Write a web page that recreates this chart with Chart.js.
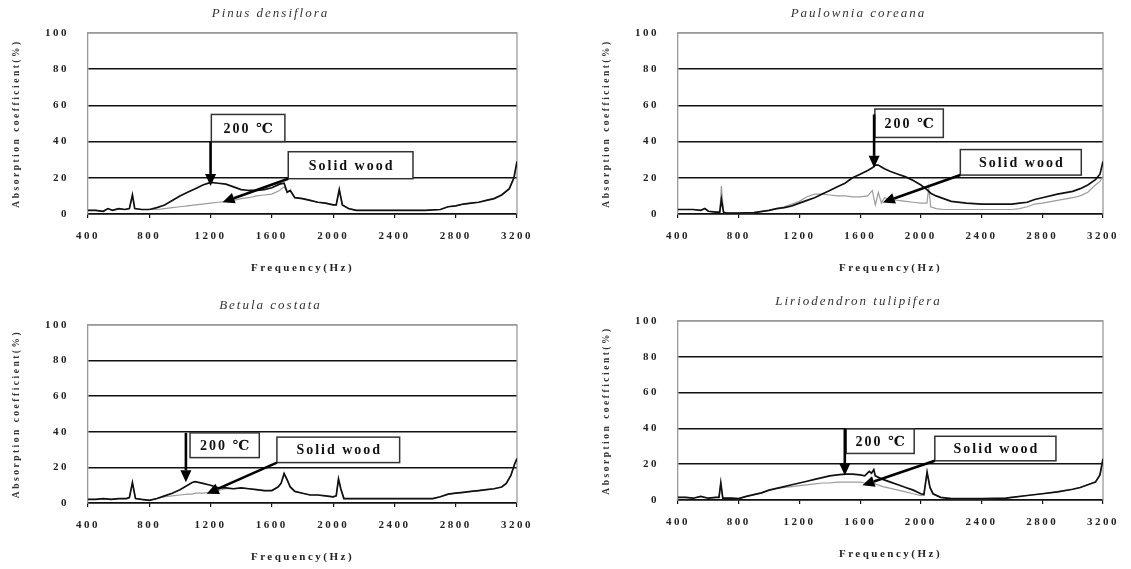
<!DOCTYPE html>
<html><head><meta charset="utf-8">
<script src="https://cdn.jsdelivr.net/npm/chart.js@4.4.1/dist/chart.umd.min.js"></script>
<style>
html,body{margin:0;padding:0;background:#fff;width:1131px;height:569px;overflow:hidden;position:relative}
.panel{position:absolute}
</style></head><body>
<div class="panel" style="left:0;top:0;width:547px;height:278px"><canvas id="c0"></canvas></div>
<div class="panel" style="left:590px;top:0;width:541px;height:278px"><canvas id="c1"></canvas></div>
<div class="panel" style="left:0;top:292px;width:547px;height:275px"><canvas id="c2"></canvas></div>
<div class="panel" style="left:590px;top:288px;width:541px;height:276px"><canvas id="c3"></canvas></div>
<script>
// ---- tick labels ----
const xTickLabels = ['400','800','1200','1600','2000','2400','2800','3200'];
const yTickLabels = ['0','20','40','60','80','100'];
const seriesNames = ['200 ℃', 'Solid wood'];

// ---- Pinus densiflora ----
const pinusFreq  = [400,450,500,530,560,600,640,670,690,705, 750,800,850,900,950,1000,1050,1100,1150,1200, 1250,1300,1350,1400,1450,1500,1550,1600,1650,1680, 1700,1720,1750,1800,1850,1900,1950,2000,2020,2040, 2060,2100,2150,2300,2500,2600,2700,2750,2800,2850, 2900,2950,3000,3050,3100,3150,3180,3200];
const pinus200   = [2,2,1.5,3,2,3,2.5,3,10.5,3, 2.5,2.5,3.5,5,7.5,10,12,14,16,17.5, 17,16.5,15,13.5,13,13,13.5,14.5,16.5,17, 12,13,9,8.5,7.5,6.5,6,5,5,13.5, 5,3,2,2,2,2,2.5,4,4.5,5.5, 6,6.5,7.5,8.5,10.5,14,20,29];
const pinusSolid = [2,2,1.5,3,2,3,2.5,3,10.5,3, 2.5,2.5,2.5,3,3.5,4,4.5,5,5.5,6, 6.5,7,7.5,8.5,9,10,10.5,11,13,15, 12,13,9,8.5,7.5,6.5,6,5,5,13.5, 5,3,2,2,2,2,2.5,4,4.5,5.5, 6,6.5,7.5,8.5,10.5,14,20,29];

// ---- Paulownia coreana ----
const paulFreq  = [400,450,500,550,577,600,650,675,686,700, 720,800,900,1000,1050,1100,1150,1200,1250,1300, 1350,1400,1450,1500,1550,1600,1650,1680,1700,1720, 1740,1760,1800,1850,1900,1950,2000,2040,2052,2065, 2100,2150,2200,2300,2400,2500,2600,2650,2700,2750, 2800,2900,3000,3050,3100,3150,3180,3200];
const paul200   = [2.5,2.5,2.5,2,3,1.5,1,1,8,1, 0.5,0.5,0.8,2,3,3.5,4.5,6,7.5,9, 11,13,15,17,20,22,24,25.5,27,27, 26,25,23.5,22,20.5,18.5,16,13.5,12.5,11.5, 10,8.5,7,6,5.5,5.5,5.5,6,6.5,8, 9,11,12.5,14,16,19,22,29];
const paulSolid = [2.5,2.5,2.5,2,3,1.5,1,1,15.5,1, 0.5,0.5,0.8,2,3,4,5.5,7,9.5,11, 11,10.5,10,10,9.5,9.5,10,13,5,12, 6,9,8,7.5,7,6.5,6,6,14.5,4, 3,2.5,2.5,2.5,2.5,2.5,2.5,3,4,5.5, 6,7.5,9,10,12,16,18,21];

// ---- Betula costata ----
const betFreq  = [400,450,500,550,600,650,670,690,710,750, 800,850,900,950,1000,1050,1080,1100,1150,1200, 1250,1300,1350,1400,1450,1500,1550,1600,1640,1660, 1680,1700,1720,1750,1800,1850,1900,1950,2000,2020, 2035,2050,2070,2100,2200,2400,2600,2650,2700,2750, 2800,2850,2900,2950,3000,3050,3100,3130,3160,3185, 3200];
const bet200   = [2,2,2.5,2,2.5,2.5,3,11.5,2.5,2, 1.5,2.5,4,5.5,7.5,10,11.5,12,11,10, 8.5,8.5,8,8.5,8,7.5,7,7,9,11, 16.5,13,9,6.5,5.5,4.5,4.5,4,3.5,4, 13.5,8,2.5,2.5,2.5,2.5,2.5,2.5,3.5,5, 5.5,6,6.5,7,7.5,8,9,11,15.5,22, 25];
const betSolid = [2,2,2.5,2,2.5,2.5,3,11.5,2.5,2, 1.5,2.5,3.5,4,4.5,5,5,5.5,5.5,6, 7,8,8,8.5,8,7.5,7,7,9,11, 16.5,13,9,6.5,5.5,4.5,4.5,4,3.5,4, 13.5,8,2.5,2.5,2.5,2.5,2.5,2.5,3.5,5, 5.5,6,6.5,7,7.5,8,9,11,15.5,22, 25];

// ---- Liriodendron tulipifera ----
const lirFreq  = [400,450,500,550,600,650,670,682,695,750, 800,850,900,950,1000,1050,1100,1150,1200,1250, 1300,1350,1400,1450,1500,1550,1600,1630,1660,1675, 1690,1700,1750,1800,1850,1900,1950,2000,2020,2041, 2060,2080,2130,2200,2300,2400,2500,2560,2600,2700, 2800,2900,3000,3050,3100,3150,3180,3200];
const lir200   = [1.5,1.5,1,2,1,1.5,1.5,9.5,1,1, 0.8,2,3,4,5.5,6.5,7.5,8.5,9.5,10.5, 11.5,12.5,13.5,14,14.5,14.5,14,13.5,16,15, 17,13.5,11.5,10,8.5,7,5.5,3.5,3,15.5, 7,3.5,1.5,0.8,0.8,0.8,0.9,1,1.5,2.5, 3.5,4.5,6,7,8.5,10,14,23];
const lirSolid = [1.5,1.5,1,2,1,1.5,1.5,9.5,1,1, 0.8,2,3,4,5.5,6.5,7,7.5,8,8.5, 9,9.5,9.5,10,10,10,10,9.5,9.5,9, 9,9,7.5,6.5,5.5,4.5,3.5,2.5,3,15.5, 7,3.5,1.5,0.8,0.8,0.8,0.9,1,1.5,2.5, 3.5,4.5,6,7,8.5,10,14,23];

const panels = [
  {id:'c0', title:'Pinus densiflora', freq:pinusFreq, heat:pinus200, solid:pinusSolid, padRight:30,
   notes:{tempBox:[1205,1685,40,55], tempArrow:[1200,40,1200,15.5], solidBox:[1707,2521,19.5,34.4], solidArrow:[1707,19.5,1278,6.5]}},
  {id:'c1', title:'Paulownia coreana', freq:paulFreq, heat:paul200, solid:paulSolid, padRight:26,
   notes:{tempBox:[1697,2148,42.3,58], tempArrow:[1692,55,1692,25.5], solidBox:[2260,3057,21.5,35.6], solidArrow:[2260,21.5,1749,6.4]}},
  {id:'c2', title:'Betula costata', freq:betFreq, heat:bet200, solid:betSolid, padRight:30,
   notes:{tempBox:[1066,1518,25.5,39.4], tempArrow:[1039,39.4,1039,11.6], solidBox:[1633,2434,22.7,37], solidArrow:[1633,22.7,1175,5.2]}},
  {id:'c3', title:'Liriodendron tulipifera', freq:lirFreq, heat:lir200, solid:lirSolid, padRight:26,
   notes:{tempBox:[1508,1956,26,39.7], tempArrow:[1499,39.7,1499,13.7], solidBox:[2092,2890,21.9,35.6], solidArrow:[2092,21.9,1615,8.2]}}
];

const SERIF = '"Liberation Serif", "DejaVu Serif", serif';

function drawArrow(ctx, x1, y1, x2, y2) {
  const ang = Math.atan2(y2 - y1, x2 - x1);
  const head = 12, hw = 5.5;
  const bx = x2 - head * Math.cos(ang), by = y2 - head * Math.sin(ang);
  ctx.strokeStyle = '#000'; ctx.fillStyle = '#000'; ctx.lineWidth = 2.6;
  ctx.beginPath(); ctx.moveTo(x1, y1); ctx.lineTo(bx, by); ctx.stroke();
  ctx.beginPath(); ctx.moveTo(x2, y2);
  ctx.lineTo(bx + hw * Math.sin(ang), by - hw * Math.cos(ang));
  ctx.lineTo(bx - hw * Math.sin(ang), by + hw * Math.cos(ang));
  ctx.closePath(); ctx.fill();
}

const decor = {
  id: 'decor',
  beforeLayout(chart) { chart.ctx.letterSpacing = '2.5px'; },
  beforeDraw(chart) { chart.ctx.letterSpacing = '2.5px'; },
  beforeDatasetsDraw(chart) {
    const {ctx, chartArea: a} = chart;
    ctx.save();
    ctx.strokeStyle = '#9a9a9a'; ctx.lineWidth = 1.3;
    ctx.beginPath(); ctx.moveTo(a.left, a.top); ctx.lineTo(a.right, a.top); ctx.lineTo(a.right, a.bottom); ctx.stroke();
    ctx.restore();
  },
  afterDatasetsDraw(chart, args, opts) {
    const {ctx, scales: {x, y}} = chart;
    const n = opts.notes;
    ctx.save();
    const box = (b, text) => {
      const l = x.getPixelForValue(b[0]), r = x.getPixelForValue(b[1]);
      const t = y.getPixelForValue(b[3]), btm = y.getPixelForValue(b[2]);
      ctx.fillStyle = '#fff'; ctx.fillRect(l, t, r - l, btm - t);
      ctx.strokeStyle = '#333'; ctx.lineWidth = 1.5; ctx.strokeRect(l, t, r - l, btm - t);
      ctx.fillStyle = '#111'; ctx.font = 'bold 14px ' + SERIF;
      ctx.letterSpacing = '2px';
      ctx.textAlign = 'center'; ctx.textBaseline = 'middle';
      ctx.fillText(text, (l + r) / 2 + 1, (t + btm) / 2 + 1);
    };
    box(n.tempBox, seriesNames[0]);
    box(n.solidBox, seriesNames[1]);
    const ar = a => drawArrow(ctx, x.getPixelForValue(a[0]), y.getPixelForValue(a[1]), x.getPixelForValue(a[2]), y.getPixelForValue(a[3]));
    ar(n.tempArrow); ar(n.solidArrow);
    ctx.restore();
  },
  afterDraw(chart, args, opts) {
    const {ctx, chartArea: a} = chart;
    ctx.save();
    ctx.font = 'italic 13px ' + SERIF;
    ctx.letterSpacing = '2px';
    ctx.fillStyle = '#333'; ctx.textAlign = 'center'; ctx.textBaseline = 'middle';
    ctx.fillText(opts.title, (a.left + a.right) / 2 - 32, a.top - 19);
    ctx.restore();
  }
};

const tickFont = {family: SERIF, size: 11, weight: 'bold'};

panels.forEach(p => {
  new Chart(document.getElementById(p.id), {
    type: 'line',
    data: {datasets: [
      {label: seriesNames[0], data: p.freq.map((f, i) => ({x: f, y: p.heat[i]})), borderColor: '#111', borderWidth: 1.7, pointRadius: 0, tension: 0},
      {label: seriesNames[1], data: p.freq.map((f, i) => ({x: f, y: p.solid[i]})), borderColor: '#9c9c9c', borderWidth: 1.2, pointRadius: 0, tension: 0}
    ]},
    options: {
      responsive: true, maintainAspectRatio: false, animation: false, events: [],
      layout: {padding: {left: 0, top: 33, right: p.padRight, bottom: 0}},
      plugins: {legend: {display: false}, tooltip: {enabled: false}, title: {display: false},
        decor: {title: p.title, notes: p.notes}},
      scales: {
        x: {type: 'linear', min: 400, max: 3200,
          ticks: {stepSize: 400, padding: 12, font: tickFont, color: '#222', maxRotation: 0, autoSkip: false,
            callback: (v) => { const i = Math.round((v - 400) / 400); return xTickLabels[i]; }},
          grid: {drawOnChartArea: false, drawTicks: true, tickLength: 4, color: '#111', lineWidth: 1.2},
          border: {display: true, color: '#111', width: 1.6},
          title: {display: true, text: 'Frequency(Hz)', color: '#222', font: {family: SERIF, size: 11, weight: 'bold'}, padding: {top: 0, bottom: 3}},
          afterFit(s) { s.height = 64; }
        },
        y: {min: 0, max: 100,
          ticks: {stepSize: 20, padding: 19, font: tickFont, color: '#222',
            callback: (v) => yTickLabels[Math.round(v / 20)]},
          grid: {drawTicks: false, color: c => (c.tick && c.tick.value === 100) ? '#9a9a9a' : '#111', lineWidth: c => (c.tick && c.tick.value === 100) ? 1.3 : 1.5},
          border: {display: true, color: '#9a9a9a', width: 1.3},
          title: {display: true, text: 'Absorption coefficient(%)', color: '#333', font: {family: SERIF, size: 9.5, weight: 'bold'}, padding: {top: 11, bottom: 0}},
          afterFit(s) { s.width = 88; }
        }
      }
    },
    plugins: [decor]
  });
});
</script>
</body></html>
